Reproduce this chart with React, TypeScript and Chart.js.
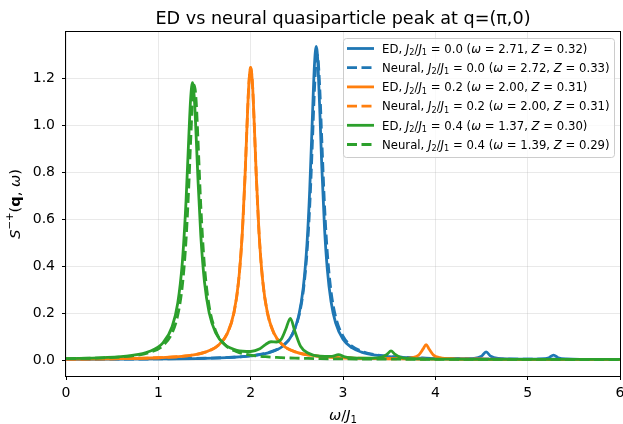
import React, { useEffect, useRef } from "react";
import { Chart, registerables } from "chart.js";

Chart.register(...registerables);

// ---------- data ----------
const xTicks = [0, 1, 2, 3, 4, 5, 6];
const yTicks = [0, 0.2, 0.4, 0.6, 0.8, 1.0, 1.2];

const chartTitle = "ED vs neural quasiparticle peak at q=(π,0)";

const ratios = ["0.0", "0.2", "0.4"];
const edOmegaPeak = ["2.71", "2.00", "1.37"];
const edZ = ["0.32", "0.31", "0.30"];
const neuralOmegaPeak = ["2.72", "2.00", "1.39"];
const neuralZ = ["0.33", "0.31", "0.29"];
const seriesColors = ["#1f77b4", "#ff7f0e", "#2ca02c"];

// J2/J1 = 0.0
const omegaJ0 = [0, 0.5, 1.0, 1.5, 1.8, 2.0, 2.2, 2.35, 2.45, 2.52, 2.57, 2.61, 2.64, 2.67, 2.69, 2.71, 2.72, 2.73, 2.75, 2.77, 2.8, 2.83, 2.87, 2.92, 3.0, 3.1, 3.2, 3.35, 3.5, 3.7, 3.9, 4.1, 4.3, 4.42, 4.5, 4.55, 4.6, 4.68, 4.8, 5.0, 5.15, 5.23, 5.28, 5.33, 5.42, 5.6, 5.8, 6.0];
const edJ0 = [0.0030, 0.0036, 0.0047, 0.0073, 0.0114, 0.0174, 0.0313, 0.0597, 0.1083, 0.1878, 0.3098, 0.4949, 0.7287, 1.0504, 1.2517, 1.3370, 1.3147, 1.2517, 1.0504, 0.8286, 0.5620, 0.3878, 0.2504, 0.1584, 0.0889, 0.0515, 0.0337, 0.0208, 0.0144, 0.0099, 0.0075, 0.0062, 0.0059, 0.0073, 0.0162, 0.0344, 0.0160, 0.0068, 0.0048, 0.0039, 0.0049, 0.0100, 0.0213, 0.0098, 0.0045, 0.0032, 0.0029, 0.0028];
const neuralJ0 = [0.0032, 0.0037, 0.0049, 0.0077, 0.0119, 0.0182, 0.0328, 0.0614, 0.1089, 0.1844, 0.2944, 0.4576, 0.6585, 0.9421, 1.1446, 1.2824, 1.3020, 1.2824, 1.1446, 0.9421, 0.6585, 0.4576, 0.2944, 0.1844, 0.1019, 0.0582, 0.0378, 0.0230, 0.0158, 0.0108, 0.0081, 0.0064, 0.0054, 0.0049, 0.0047, 0.0045, 0.0044, 0.0043, 0.0040, 0.0036, 0.0035, 0.0034, 0.0033, 0.0033, 0.0032, 0.0031, 0.0029, 0.0028];

// J2/J1 = 0.2
const omegaJ2 = [0, 0.5, 1.0, 1.3, 1.5, 1.65, 1.75, 1.82, 1.87, 1.91, 1.94, 1.96, 1.98, 2.0, 2.02, 2.04, 2.06, 2.09, 2.13, 2.18, 2.25, 2.35, 2.5, 2.7, 2.9, 3.1, 3.3, 3.5, 3.65, 3.75, 3.82, 3.87, 3.9, 3.93, 3.98, 4.05, 4.2, 4.5, 5.0, 5.5, 6.0];
const edJ2 = [0.0040, 0.0055, 0.0098, 0.0178, 0.0325, 0.0628, 0.1158, 0.2043, 0.3393, 0.5464, 0.7936, 0.9945, 1.1726, 1.2470, 1.1726, 0.9945, 0.7936, 0.5464, 0.3393, 0.2043, 0.1158, 0.0628, 0.0325, 0.0178, 0.0116, 0.0085, 0.0066, 0.0064, 0.0072, 0.0106, 0.0213, 0.0485, 0.0660, 0.0484, 0.0211, 0.0102, 0.0052, 0.0036, 0.0029, 0.0026, 0.0025];
const neuralJ2 = [0.0040, 0.0055, 0.0098, 0.0178, 0.0325, 0.0628, 0.1158, 0.2043, 0.3393, 0.5464, 0.7936, 0.9945, 1.1726, 1.2470, 1.1726, 0.9945, 0.7936, 0.5464, 0.3393, 0.2043, 0.1158, 0.0628, 0.0325, 0.0178, 0.0116, 0.0085, 0.0066, 0.0055, 0.0049, 0.0046, 0.0044, 0.0042, 0.0042, 0.0041, 0.0040, 0.0039, 0.0036, 0.0033, 0.0029, 0.0026, 0.0025];

// J2/J1 = 0.4
const omegaJ4 = [0, 0.4, 0.7, 0.9, 1.05, 1.15, 1.21, 1.26, 1.3, 1.33, 1.35, 1.37, 1.39, 1.41, 1.43, 1.46, 1.5, 1.55, 1.62, 1.72, 1.85, 2.0, 2.1, 2.16, 2.22, 2.28, 2.33, 2.38, 2.43, 2.48, 2.54, 2.62, 2.75, 2.88, 2.95, 3.02, 3.15, 3.3, 3.42, 3.48, 3.52, 3.56, 3.63, 3.8, 4.1, 4.5, 5.0, 5.5, 6.0];
const edJ4 = [0.0062, 0.0103, 0.0192, 0.0362, 0.0732, 0.1429, 0.2420, 0.4166, 0.6772, 0.9506, 1.1145, 1.1825, 1.1145, 0.9507, 0.7638, 0.5300, 0.3320, 0.2028, 0.1169, 0.0660, 0.0416, 0.0365, 0.0478, 0.0660, 0.0780, 0.0770, 0.0880, 0.1310, 0.1780, 0.1210, 0.0590, 0.0300, 0.0164, 0.0156, 0.0235, 0.0131, 0.0081, 0.0077, 0.0121, 0.0257, 0.0389, 0.0253, 0.0102, 0.0051, 0.0037, 0.0031, 0.0028, 0.0026, 0.0025];
const neuralJ4 = [0.0058, 0.0094, 0.0171, 0.0316, 0.0618, 0.1161, 0.1906, 0.3169, 0.5104, 0.7433, 0.9327, 1.1013, 1.1720, 1.1013, 0.9327, 0.6567, 0.3994, 0.2308, 0.1252, 0.0653, 0.0354, 0.0213, 0.0163, 0.0142, 0.0125, 0.0111, 0.0102, 0.0094, 0.0087, 0.0081, 0.0075, 0.0068, 0.0059, 0.0053, 0.0050, 0.0047, 0.0043, 0.0040, 0.0038, 0.0037, 0.0036, 0.0036, 0.0035, 0.0033, 0.0030, 0.0028, 0.0026, 0.0024, 0.0023];

const omegaSets = [omegaJ0, omegaJ2, omegaJ4];
const edSets = [edJ0, edJ2, edJ4];
const neuralSets = [neuralJ0, neuralJ2, neuralJ4];

// ---------- rich text helpers ----------
type Seg = { t: string; s?: "i" | "b"; v?: "sub" | "sup" };
const FAMILY = '"DejaVu Sans"';

function segFont(seg: Seg, size: number) {
  const sz = seg.v ? size * 0.7 : size;
  const st = seg.s === "i" ? "italic " : "";
  const wt = seg.s === "b" ? "bold " : "";
  return `${st}${wt}${sz}px ${FAMILY}`;
}
function measureRich(ctx: CanvasRenderingContext2D, segs: Seg[], size: number) {
  let w = 0;
  for (const sg of segs) {
    ctx.font = segFont(sg, size);
    w += ctx.measureText(sg.t).width;
  }
  return w;
}
function drawRich(ctx: CanvasRenderingContext2D, segs: Seg[], x: number, y: number, size: number) {
  let cx = x;
  ctx.textBaseline = "alphabetic";
  ctx.textAlign = "left";
  for (const sg of segs) {
    ctx.font = segFont(sg, size);
    const dy = sg.v === "sub" ? size * 0.22 : sg.v === "sup" ? -size * 0.42 : 0;
    ctx.fillText(sg.t, cx, y + dy);
    cx += ctx.measureText(sg.t).width;
  }
}

function legendSegs(kind: string, ratio: string, om: string, z: string): Seg[] {
  return [
    { t: kind + ", " },
    { t: "J", s: "i" },
    { t: "2", v: "sub" },
    { t: "/" },
    { t: "J", s: "i" },
    { t: "1", v: "sub" },
    { t: " = " + ratio + " (" },
    { t: "ω", s: "i" },
    { t: " = " + om + ", " },
    { t: "Z", s: "i" },
    { t: " = " + z + ")" },
  ];
}

const decorPlugin = {
  id: "decor",
  afterDatasetsDraw(chart: any) {
    const ctx: CanvasRenderingContext2D = chart.ctx;
    const a = chart.chartArea;
    ctx.save();
    // frame
    ctx.strokeStyle = "#000";
    ctx.lineWidth = 1;
    ctx.strokeRect(Math.round(a.left) - 0.5, Math.round(a.top) - 0.5, Math.round(a.right - a.left) + 1, Math.round(a.bottom - a.top) + 1);

    // title
    ctx.fillStyle = "#000";
    ctx.font = `17.6px ${FAMILY}`;
    ctx.textAlign = "center";
    ctx.textBaseline = "alphabetic";
    ctx.fillText(chartTitle, (a.left + a.right) / 2, 24);

    // x label
    const xl: Seg[] = [{ t: "ω", s: "i" }, { t: "/" }, { t: "J", s: "i" }, { t: "1", v: "sub" }];
    const xw = measureRich(ctx, xl, 14.6);
    drawRich(ctx, xl, (a.left + a.right) / 2 - xw / 2, 419.5, 14.6);

    // y label
    const yl: Seg[] = [
      { t: "S", s: "i" },
      { t: "−+", v: "sup" },
      { t: "(" },
      { t: "q", s: "b" },
      { t: ", " },
      { t: "ω", s: "i" },
      { t: ")" },
    ];
    const yw = measureRich(ctx, yl, 14.6);
    ctx.save();
    ctx.translate(19.5, (a.top + a.bottom) / 2);
    ctx.rotate(-Math.PI / 2);
    drawRich(ctx, yl, -yw / 2, 0, 14.6);
    ctx.restore();

    // legend
    const lx = 343, ly = 38, lw = 271, lh = 119;
    ctx.beginPath();
    (ctx as any).roundRect(lx + 0.5, ly + 0.5, lw, lh, 3);
    ctx.fillStyle = "rgba(255,255,255,0.8)";
    ctx.fill();
    ctx.strokeStyle = "#cccccc";
    ctx.lineWidth = 1;
    ctx.stroke();

    const ds = chart.data.datasets;
    for (let i = 0; i < ds.length; i++) {
      const cy = 48.5 + i * 19.2;
      ctx.save();
      ctx.strokeStyle = ds[i].borderColor;
      ctx.lineWidth = 2.8;
      ctx.setLineDash(ds[i].borderDash || []);
      ctx.beginPath();
      ctx.moveTo(347, cy);
      ctx.lineTo(374, cy);
      ctx.stroke();
      ctx.restore();
      ctx.fillStyle = "#000";
      drawRich(ctx, ds[i].richLabel, 382, cy + 4.2, 11.7);
    }
    ctx.restore();
  },
};

export default function App() {
  const ref = useRef<HTMLCanvasElement>(null);

  useEffect(() => {
    if (!ref.current) return;
    const datasets: any[] = [];
    for (let j = 0; j < 3; j++) {
      const om = omegaSets[j];
      datasets.push({
        label: `ED, J2/J1 = ${ratios[j]}`,
        richLabel: legendSegs("ED", ratios[j], edOmegaPeak[j], edZ[j]),
        data: om.map((x, i) => ({ x, y: edSets[j][i] })),
        borderColor: seriesColors[j],
        borderWidth: 2.8,
        borderDash: [],
        order: 10 - 2 * j,
      });
      datasets.push({
        label: `Neural, J2/J1 = ${ratios[j]}`,
        richLabel: legendSegs("Neural", ratios[j], neuralOmegaPeak[j], neuralZ[j]),
        data: om.map((x, i) => ({ x, y: neuralSets[j][i] })),
        borderColor: seriesColors[j],
        borderWidth: 2.8,
        borderDash: [10, 4.5],
        order: 9 - 2 * j,
      });
    }

    const gridColor = "rgba(176,176,176,0.35)";
    const chart = new Chart(ref.current, {
      type: "line",
      data: { datasets },
      options: {
        animation: false,
        responsive: false,
        devicePixelRatio: 1,
        layout: { padding: { top: 32, right: 3, left: 0, bottom: 0 } },
        plugins: {
          legend: { display: false },
          title: { display: false },
          tooltip: { enabled: false },
        },
        elements: {
          point: { radius: 0 },
          line: { cubicInterpolationMode: "monotone", fill: false },
        },
        datasets: { line: { clip: 0 } as any },
        scales: {
          x: {
            type: "linear",
            min: 0,
            max: 6,
            afterBuildTicks: (axis: any) => {
              axis.ticks = xTicks.map((v) => ({ value: v }));
            },
            afterFit: (s: any) => {
              s.height = 48;
              s.paddingLeft = 0;
              s.paddingRight = 0;
            },
            grid: { color: gridColor, lineWidth: 0.8, tickColor: "#000", tickLength: 4, tickWidth: 1, drawTicks: true },
            border: { display: false },
            ticks: {
              color: "#000",
              font: { family: "DejaVu Sans", size: 14 },
              padding: 5,
              maxRotation: 0,
              callback: (v: any) => String(v),
            },
          },
          y: {
            type: "linear",
            min: -0.068,
            max: 1.398,
            afterBuildTicks: (axis: any) => {
              axis.ticks = yTicks.map((v) => ({ value: v }));
            },
            afterFit: (s: any) => {
              s.width = 66;
              s.paddingTop = 0;
              s.paddingBottom = 0;
            },
            grid: { color: gridColor, lineWidth: 0.8, tickColor: "#000", tickLength: 4, tickWidth: 1, drawTicks: true },
            border: { display: false },
            ticks: {
              color: "#000",
              font: { family: "DejaVu Sans", size: 14 },
              padding: 7,
              callback: (v: any) => Number(v).toFixed(1),
            },
          },
        },
      },
      plugins: [decorPlugin],
    } as any);
    return () => chart.destroy();
  }, []);

  return (
    <div style={{ position: "absolute", left: 0, top: 0, width: 623, height: 424, background: "#fff" }}>
      <canvas ref={ref} width={623} height={424} style={{ display: "block", width: 623, height: 424 }} />
    </div>
  );
}
